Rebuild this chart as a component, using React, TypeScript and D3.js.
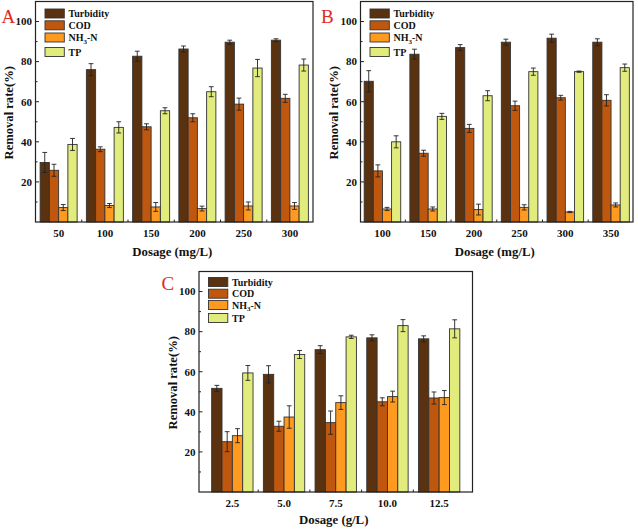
import React from "react";
import * as d3 from "d3";

// ---------- data ----------
const seriesNames = ["Turbidity", "COD", "NH3-N", "TP"];

const dosageA = ["50", "100", "150", "200", "250", "300"];
const turbidityA = [29.7, 76.0, 82.7, 86.3, 89.7, 90.7];
const turbidityErrA = [5.0, 3.0, 2.5, 1.5, 1.0, 0.7];
const codA = [25.8, 36.3, 47.5, 52.0, 58.8, 61.7];
const codErrA = [3.0, 1.2, 1.5, 2.0, 3.0, 2.0];
const nh3A = [7.2, 8.2, 7.5, 6.7, 8.0, 8.0];
const nh3ErrA = [1.5, 1.0, 2.2, 1.2, 2.0, 1.7];
const tpA = [38.7, 47.2, 55.5, 65.0, 76.8, 78.3];
const tpErrA = [3.0, 2.8, 1.5, 2.5, 4.3, 3.0];

const dosageB = ["100", "150", "200", "250", "300", "350"];
const turbidityB = [70.2, 83.7, 87.0, 89.7, 91.7, 89.7];
const turbidityErrB = [5.3, 2.5, 1.5, 1.5, 2.0, 1.7];
const codB = [25.5, 34.3, 46.7, 58.0, 62.0, 60.7];
const codErrB = [3.0, 1.5, 2.0, 2.3, 1.2, 2.8];
const nh3B = [6.5, 6.5, 6.2, 7.3, 5.0, 8.5];
const nh3ErrB = [0.8, 1.0, 2.7, 1.3, 0.3, 1.0];
const tpB = [40.0, 52.7, 63.0, 75.0, 75.0, 77.0];
const tpErrB = [3.0, 1.5, 2.5, 1.8, 0.3, 1.8];

const dosageC = ["2.5", "5.0", "7.5", "10.0", "12.5"];
const turbidityC = [51.7, 58.7, 71.0, 76.9, 76.4];
const turbidityErrC = [1.5, 4.3, 2.0, 1.5, 1.5];
const codC = [25.1, 32.8, 34.6, 45.0, 46.9];
const codErrC = [5.0, 2.5, 5.8, 2.0, 3.0];
const nh3C = [28.1, 37.4, 44.6, 47.6, 47.1];
const nh3ErrC = [3.5, 5.6, 3.4, 2.7, 3.5];
const tpC = [59.4, 68.6, 77.4, 83.0, 81.4];
const tpErrC = [3.7, 2.0, 0.8, 3.0, 4.5];

const yMajorTicks = [20, 40, 60, 80, 100];
const yMinorTicks = [10, 30, 50, 70, 90];

// ---------- styles ----------
const colors = ["#5a3210", "#c0570e", "#ff9a20", "#e2ec7c"];
const FONT = "'Liberation Serif', 'Times New Roman', serif";
const RED = "#e02a1e";

type PanelProps = {
  categories: string[];
  values: number[][];
  errors: number[][];
  left: number;
  right: number;
  top: number;
  bottom: number;
  padding: number;
  letter: string;
  letterX: number;
  letterY: number;
  xTitle: string;
  xTitleOffset: number;
  legendRows: number[];
};

function Panel(p: PanelProps) {
  const x = d3
    .scalePoint<string>()
    .domain(p.categories)
    .range([p.left, p.right])
    .padding(p.padding);
  const y = d3.scaleLinear().domain([0, 110]).range([p.bottom, p.top]);
  const step = x.step();
  const bw = step * 0.2;
  const n = p.values.length;
  const boundaries = p.categories.slice(1).map((c) => (x(c) as number) - step / 2);

  return (
    <g>
      {p.values.map((vals, si) =>
        vals.map((v, ci) => {
          const cx = x(p.categories[ci]) as number;
          const bx = cx - (n * bw) / 2 + si * bw;
          return (
            <rect
              key={`b${si}-${ci}`}
              x={bx}
              y={y(v)}
              width={bw}
              height={y(0) - y(v)}
              fill={colors[si]}
              stroke="#333"
              strokeWidth={0.9}
            />
          );
        })
      )}
      {p.values.map((vals, si) =>
        vals.map((v, ci) => {
          const cx = x(p.categories[ci]) as number;
          const mx = cx - (n * bw) / 2 + si * bw + bw / 2;
          const e = p.errors[si][ci];
          const y1 = y(v + e);
          const y2 = y(Math.max(0, v - e));
          const cw = 2.4;
          return (
            <g key={`e${si}-${ci}`} stroke="#222" strokeWidth={0.9}>
              <line x1={mx} x2={mx} y1={y1} y2={y2} />
              <line x1={mx - cw} x2={mx + cw} y1={y1} y2={y1} />
              <line x1={mx - cw} x2={mx + cw} y1={y2} y2={y2} />
            </g>
          );
        })
      )}
      <rect
        x={p.left}
        y={p.top}
        width={p.right - p.left}
        height={p.bottom - p.top}
        fill="none"
        stroke="#222"
        strokeWidth={1.2}
      />
      {yMajorTicks.map((t) => (
        <g key={`ym${t}`}>
          <line x1={p.left} x2={p.left + 3.5} y1={y(t)} y2={y(t)} stroke="#222" strokeWidth={1} />
          <text
            x={p.left - 3.5}
            y={y(t)}
            dy="0.35em"
            textAnchor="end"
            fontFamily={FONT}
            fontWeight="bold"
            fontSize={11}
            fill="#111"
          >
            {t}
          </text>
        </g>
      ))}
      {yMinorTicks.map((t) => (
        <line key={`yn${t}`} x1={p.left} x2={p.left + 2} y1={y(t)} y2={y(t)} stroke="#222" strokeWidth={1} />
      ))}
      {boundaries.map((bx, i) => (
        <line key={`xt${i}`} x1={bx} x2={bx} y1={p.bottom} y2={p.bottom - 2.5} stroke="#222" strokeWidth={1} />
      ))}
      {p.categories.map((c) => (
        <text
          key={`xl${c}`}
          x={x(c) as number}
          y={p.bottom + 14.5}
          textAnchor="middle"
          fontFamily={FONT}
          fontWeight="bold"
          fontSize={11}
          fill="#111"
        >
          {c}
        </text>
      ))}
      <text
        x={(p.left + p.right) / 2 - 2}
        y={p.bottom + p.xTitleOffset}
        textAnchor="middle"
        fontFamily={FONT}
        fontWeight="bold"
        fontSize={12.8}
        fill="#111"
      >
        {p.xTitle}
      </text>
      <text
        transform={`translate(${p.left - 22.5},${(p.top + p.bottom) / 2 + 1}) rotate(-90)`}
        textAnchor="middle"
        fontFamily={FONT}
        fontWeight="bold"
        fontSize={12.6}
        fill="#111"
      >
        Removal rate(%)
      </text>
      <text x={p.letterX} y={p.letterY} fontFamily={FONT} fontSize={19} fill={RED}>
        {p.letter}
      </text>
      {seriesNames.map((s, i) => {
        const cy = p.top + p.legendRows[i];
        return (
          <g key={`lg${s}`}>
            <rect
              x={p.left + 9.5}
              y={cy - 4.5}
              width={19.3}
              height={9}
              fill={colors[i]}
              stroke="#333"
              strokeWidth={0.9}
            />
            <text
              x={p.left + 33}
              y={cy}
              dy="0.35em"
              fontFamily={FONT}
              fontWeight="bold"
              fontSize={10}
              fill="#111"
            >
              {s === "NH3-N" ? (
                <>
                  NH
                  <tspan fontSize={7} dy="2.5">3</tspan>
                  <tspan dy="-2.5">-N</tspan>
                </>
              ) : (
                s
              )}
            </text>
          </g>
        );
      })}
    </g>
  );
}

export default function App() {
  return (
    <svg
      width={638}
      height={531}
      viewBox="0 0 638 531"
      style={{ position: "absolute", left: 0, top: 0, background: "#fff" }}
    >
      <rect width={638} height={531} fill="#fff" />
      <Panel
        categories={dosageA}
        values={[turbidityA, codA, nh3A, tpA]}
        errors={[turbidityErrA, codErrA, nh3ErrA, tpErrA]}
        left={35.5}
        right={313}
        top={1.5}
        bottom={222}
        padding={0.5}
        letter="A"
        letterX={1.5}
        letterY={22.7}
        xTitle="Dosage (mg/L)"
        xTitleOffset={34}
        legendRows={[12, 23.8, 36, 50.5]}
      />
      <Panel
        categories={dosageB}
        values={[turbidityB, codB, nh3B, tpB]}
        errors={[turbidityErrB, codErrB, nh3ErrB, tpErrB]}
        left={360.5}
        right={633}
        top={1.5}
        bottom={222}
        padding={0.48}
        letter="B"
        letterX={321}
        letterY={22.7}
        xTitle="Dosage (mg/L)"
        xTitleOffset={34}
        legendRows={[12, 23.8, 36, 50.5]}
      />
      <Panel
        categories={dosageC}
        values={[turbidityC, codC, nh3C, tpC]}
        errors={[turbidityErrC, codErrC, nh3ErrC, tpErrC]}
        left={199}
        right={472.5}
        top={271.5}
        bottom={492}
        padding={0.645}
        letter="C"
        letterX={161.5}
        letterY={290}
        xTitle="Dosage (g/L)"
        xTitleOffset={32}
        legendRows={[10.5, 22.2, 33.5, 46.5]}
      />
    </svg>
  );
}
